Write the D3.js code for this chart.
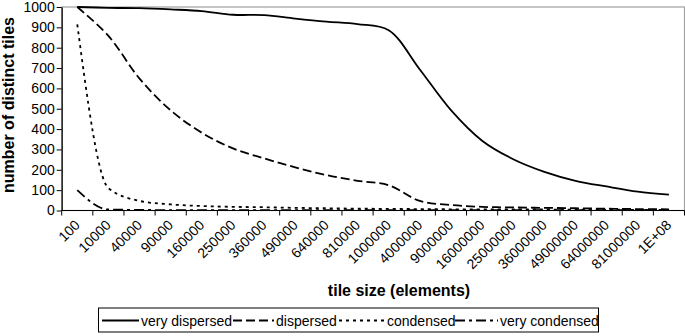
<!DOCTYPE html>
<html><head><meta charset="utf-8">
<script src="https://cdn.jsdelivr.net/npm/d3@7"></script>
<style>
html,body{margin:0;padding:0;background:#fff;}
svg{display:block;font-family:"Liberation Sans",Arial,sans-serif;}
</style></head>
<body><svg id="c" width="685" height="336"></svg>
<script>
const categories = ["100","10000","40000","90000","160000","250000","360000","490000","640000","810000","1000000","4000000","9000000","16000000","25000000","36000000","49000000","64000000","81000000","1E+08"];
const veryDispersed = [1000,996,994,988,980,962,960,943,928,916,886,693,493,343,252,190,146,118,93,78];
const dispersed = [1000,858,648,492,382,305,256,212,174,146,124,47,27,18,15,13,11,9,7,6];
const condensed = [915,110,47,30,22,18,16,13,11,9,8,7,6,6,5,5,4,4,3,3];
const veryCondensed = [100,5,3,2,2,2,2,2,2,2,2,2,2,2,2,2,2,2,2,2];
const seriesNames = ["very dispersed","dispersed","condensed","very condensed"];
const yTicks = [0,100,200,300,400,500,600,700,800,900,1000];

const series = [
  {name: seriesNames[0], values: veryDispersed, dash: null, curve: d3.curveCatmullRom.alpha(0.5)},
  {name: seriesNames[1], values: dispersed, dash: "9,4", curve: d3.curveCatmullRom.alpha(0.5)},
  {name: seriesNames[2], values: condensed, dash: "3,4", curve: d3.curveMonotoneX},
  {name: seriesNames[3], values: veryCondensed, dash: "10,4,3,4", curve: d3.curveMonotoneX}
];

const svg = d3.select("#c");
const L = 61.7, R = 684.5, T = 7, B = 210.5;
const x = d3.scaleBand().domain(categories).range([L, R]).padding(0);
const y = d3.scaleLinear().domain([0, 1000]).range([B, T]);
const cx = c => x(c) + x.bandwidth() / 2;

// plot area border (gray)
svg.append("rect").attr("x", L).attr("y", T).attr("width", R - L).attr("height", B - T)
  .attr("fill", "none").attr("stroke", "#a0a0a0").attr("stroke-width", 1.2);

// lines
series.forEach(s => {
  const line = d3.line().x((d, i) => cx(categories[i])).y(d => y(d)).curve(s.curve);
  svg.append("path").datum(s.values).attr("d", line)
    .attr("fill", "none").attr("stroke", "#000").attr("stroke-width", 1.8)
    .attr("stroke-dasharray", s.dash);
});

// y axis
const yAxis = d3.axisLeft(y).tickValues(yTicks).tickFormat(d3.format("d"))
  .tickSize(5).tickPadding(2).tickSizeOuter(0);
const gy = svg.append("g").attr("transform", `translate(${L},0)`).call(yAxis);
gy.select(".domain").attr("stroke", "#000").attr("stroke-width", 1.2);
gy.selectAll(".tick line").attr("stroke", "#000");
gy.selectAll(".tick text").attr("font-size", 14).attr("fill", "#000")
  .attr("font-family", "'Liberation Sans',Arial,sans-serif");

// x axis
const gx = svg.append("g");
gx.append("line").attr("x1", L).attr("x2", R).attr("y1", B).attr("y2", B)
  .attr("stroke", "#000").attr("stroke-width", 1.2);
const bounds = categories.map(c => x(c)).concat([R]);
gx.selectAll("line.tk").data(bounds).enter().append("line").attr("class", "tk")
  .attr("x1", d => d).attr("x2", d => d).attr("y1", B).attr("y2", B + 5)
  .attr("stroke", "#000");
gx.selectAll("text").data(categories).enter().append("text")
  .attr("transform", d => `translate(${cx(d) - 4},${B + 8}) rotate(-45)`)
  .attr("text-anchor", "end").attr("dy", "0.75em")
  .attr("font-size", 14).attr("fill", "#000").text(d => d);

// axis titles
svg.append("text").attr("x", 399).attr("y", 296).attr("text-anchor", "middle")
  .attr("font-size", 16).attr("font-weight", "bold").text("tile size (elements)");
svg.append("text").attr("transform", "translate(14,105) rotate(-90)").attr("text-anchor", "middle")
  .attr("font-size", 16).attr("font-weight", "bold").text("number of distinct tiles");

// legend
const lg = svg.append("g");
lg.append("rect").attr("x", 98.5).attr("y", 308).attr("width", 500).attr("height", 24)
  .attr("fill", "#fff").attr("stroke", "#000").attr("stroke-width", 1);
const legX = [{s: 102, t: 141}, {s: 233, t: 276}, {s: 339, t: 387}, {s: 455, t: 500}];
series.forEach((s, i) => {
  lg.append("line").attr("x1", legX[i].s).attr("x2", legX[i].t - 2).attr("y1", 320.5).attr("y2", 320.5)
    .attr("stroke", "#000").attr("stroke-width", 1.8).attr("stroke-dasharray", s.dash);
  lg.append("text").attr("x", legX[i].t).attr("y", 325.5).attr("font-size", 14).text(s.name);
});
</script></body></html>
